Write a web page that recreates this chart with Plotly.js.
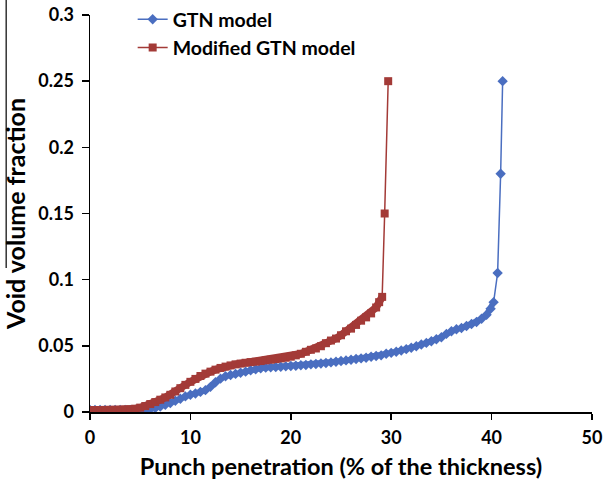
<!DOCTYPE html>
<html>
<head>
<meta charset="utf-8">
<script src="https://cdn.plot.ly/plotly-3.0.1.min.js"></script>
<style>html,body{margin:0;padding:0;background:#fff;}#chart{width:608px;height:485px;}</style>
</head>
<body>
<div id="chart"></div>
<script>
// GTN model (blue)
const gtnX = [0,0.5,1,1.5,2,2.5,3,3.5,4,4.5,5,5.5,6,6.5,7,7.5,8,8.5,9,9.5,10,10.5,11,11.5,12,12.5,13,13.5,14,14.5,15,15.5,16,16.5,17,17.5,18,18.5,19,19.5,20,20.5,21,21.5,22,22.5,23,23.5,24,24.5,25,25.5,26,26.5,27,27.5,28,28.5,29,29.5,30,30.5,31,31.5,32,32.5,33,33.5,34,34.5,35,35.5,36,36.5,37,37.5,38,38.5,39,39.5,39.9,40.2,40.6,40.9,41.1];
const gtnY = [0.0015,0.0015,0.0015,0.0015,0.0015,0.0015,0.0015,0.0015,0.0015,0.0015,0.0015,0.0018,0.0022,0.003,0.0042,0.0055,0.0068,0.0085,0.01,0.0118,0.013,0.014,0.0152,0.0165,0.019,0.0225,0.0252,0.027,0.028,0.0288,0.0297,0.0305,0.0315,0.0323,0.033,0.0335,0.0338,0.034,0.0342,0.0345,0.0348,0.035,0.0353,0.0355,0.036,0.0363,0.0367,0.037,0.0375,0.038,0.0385,0.039,0.0395,0.04,0.0405,0.041,0.0418,0.0423,0.0428,0.044,0.0447,0.0455,0.0465,0.0475,0.0485,0.0497,0.051,0.0522,0.0535,0.055,0.0565,0.059,0.061,0.0625,0.0635,0.065,0.0665,0.068,0.0705,0.0735,0.078,0.083,0.105,0.18,0.25];

// Modified GTN model (red)
const modX = [0,0.5,1,1.5,2,2.5,3,3.5,4,4.5,5,5.5,6,6.5,7,7.5,8,8.5,9,9.5,10,10.5,11,11.5,12,12.5,13,13.5,14,14.5,15,15.5,16,16.5,17,17.5,18,18.5,19,19.5,20,20.5,21,21.5,22,22.5,23,23.5,24,24.5,25,25.5,26,26.5,27,27.5,28,28.5,28.8,29.1,29.35,29.7];
const modY = [0.0015,0.0015,0.0015,0.0015,0.0015,0.0015,0.0015,0.0017,0.002,0.0025,0.0033,0.0045,0.006,0.0075,0.0093,0.011,0.013,0.0155,0.018,0.0205,0.0228,0.025,0.0272,0.029,0.0305,0.032,0.0333,0.0343,0.0352,0.036,0.0366,0.0372,0.0377,0.038,0.0385,0.039,0.0395,0.04,0.0405,0.041,0.0418,0.0428,0.044,0.0455,0.047,0.048,0.0497,0.052,0.054,0.0555,0.058,0.061,0.063,0.0658,0.069,0.0715,0.0745,0.079,0.083,0.087,0.15,0.25];

const seriesNames = ["GTN model", "Modified GTN model"];
const xTicks = [0,10,20,30,40,50];
const yTicks = [0,0.05,0.1,0.15,0.2,0.25,0.3];
const yTickText = ['0','0.05','0.1','0.15','0.2','0.25','0.3'];

const FONT = "Lato, 'Open Sans', sans-serif";
const BLUE = '#4A6EC0', RED = '#A33A37';

// dense part of each curve (before the final steep rise) drawn as a thick band of overlapping markers
const gtnDense = gtnX.length - 3;
const modDense = modX.length - 2;

const traces = [
  {x: gtnX.slice(0, gtnDense), y: gtnY.slice(0, gtnDense), type: 'scatter', mode: 'lines', showlegend: false, hoverinfo: 'skip',
   line: {color: BLUE, width: 5.5}},
  {x: gtnX, y: gtnY, name: seriesNames[0], type: 'scatter', mode: 'lines+markers', legendgroup: 'a',
   line: {color: BLUE, width: 1.5}, marker: {symbol: 'diamond', size: 8, color: BLUE}},
  {x: modX.slice(0, modDense), y: modY.slice(0, modDense), type: 'scatter', mode: 'lines', showlegend: false, hoverinfo: 'skip',
   line: {color: RED, width: 7.5}},
  {x: modX, y: modY, name: seriesNames[1], type: 'scatter', mode: 'lines+markers', legendgroup: 'b',
   line: {color: RED, width: 1.5}, marker: {symbol: 'square', size: 8, color: RED}}
];

const layout = {
  width: 608, height: 485,
  margin: {l: 90, r: 15.5, t: 15, b: 73, pad: 0, autoexpand: false},
  paper_bgcolor: '#fff', plot_bgcolor: '#fff',
  font: {family: FONT, color: '#000', size: 18, weight: 700},
  showlegend: true,
  legend: {x: 0.085, xref: 'paper', y: 1.005, yref: 'container', xanchor: 'left', yanchor: 'top', bgcolor: 'rgba(0,0,0,0)',
           font: {family: FONT, size: 19.5, weight: 700, color: '#000'}, tracegroupgap: 3, traceorder: 'normal'},
  xaxis: {range: [0, 50], tickvals: xTicks, ticktext: xTicks.map(String), showgrid: false, zeroline: false,
          showline: true, linecolor: '#000', linewidth: 1.5, ticks: 'outside', ticklen: 6, tickcolor: '#000', tickwidth: 1.5,
          ticklabelstandoff: 3, automargin: false,
          tickfont: {family: FONT, size: 18, weight: 700}, fixedrange: true,
          title: {text: 'Punch penetration (% of the thickness)', font: {family: FONT, size: 23.5, weight: 700}, standoff: 11}},
  yaxis: {range: [0, 0.3], tickvals: yTicks, ticktext: yTickText, showgrid: false, zeroline: false,
          showline: true, linecolor: '#000', linewidth: 1.5, ticks: 'outside', ticklen: 7, tickcolor: '#000', tickwidth: 1.5,
          ticklabelstandoff: 4, automargin: false,
          tickfont: {family: FONT, size: 18, weight: 700}, fixedrange: true,
          title: {text: 'Void volume fraction', font: {family: FONT, size: 25, weight: 700}, standoff: 6}},
  shapes: [{type: 'line', xref: 'paper', yref: 'paper', x0: -0.167, x1: -0.167, y0: 1.04, y1: 0.363,
            line: {color: '#000', width: 1.2}}]
};

Plotly.newPlot('chart', traces, layout, {displayModeBar: false, staticPlot: true});
</script>
</body>
</html>
